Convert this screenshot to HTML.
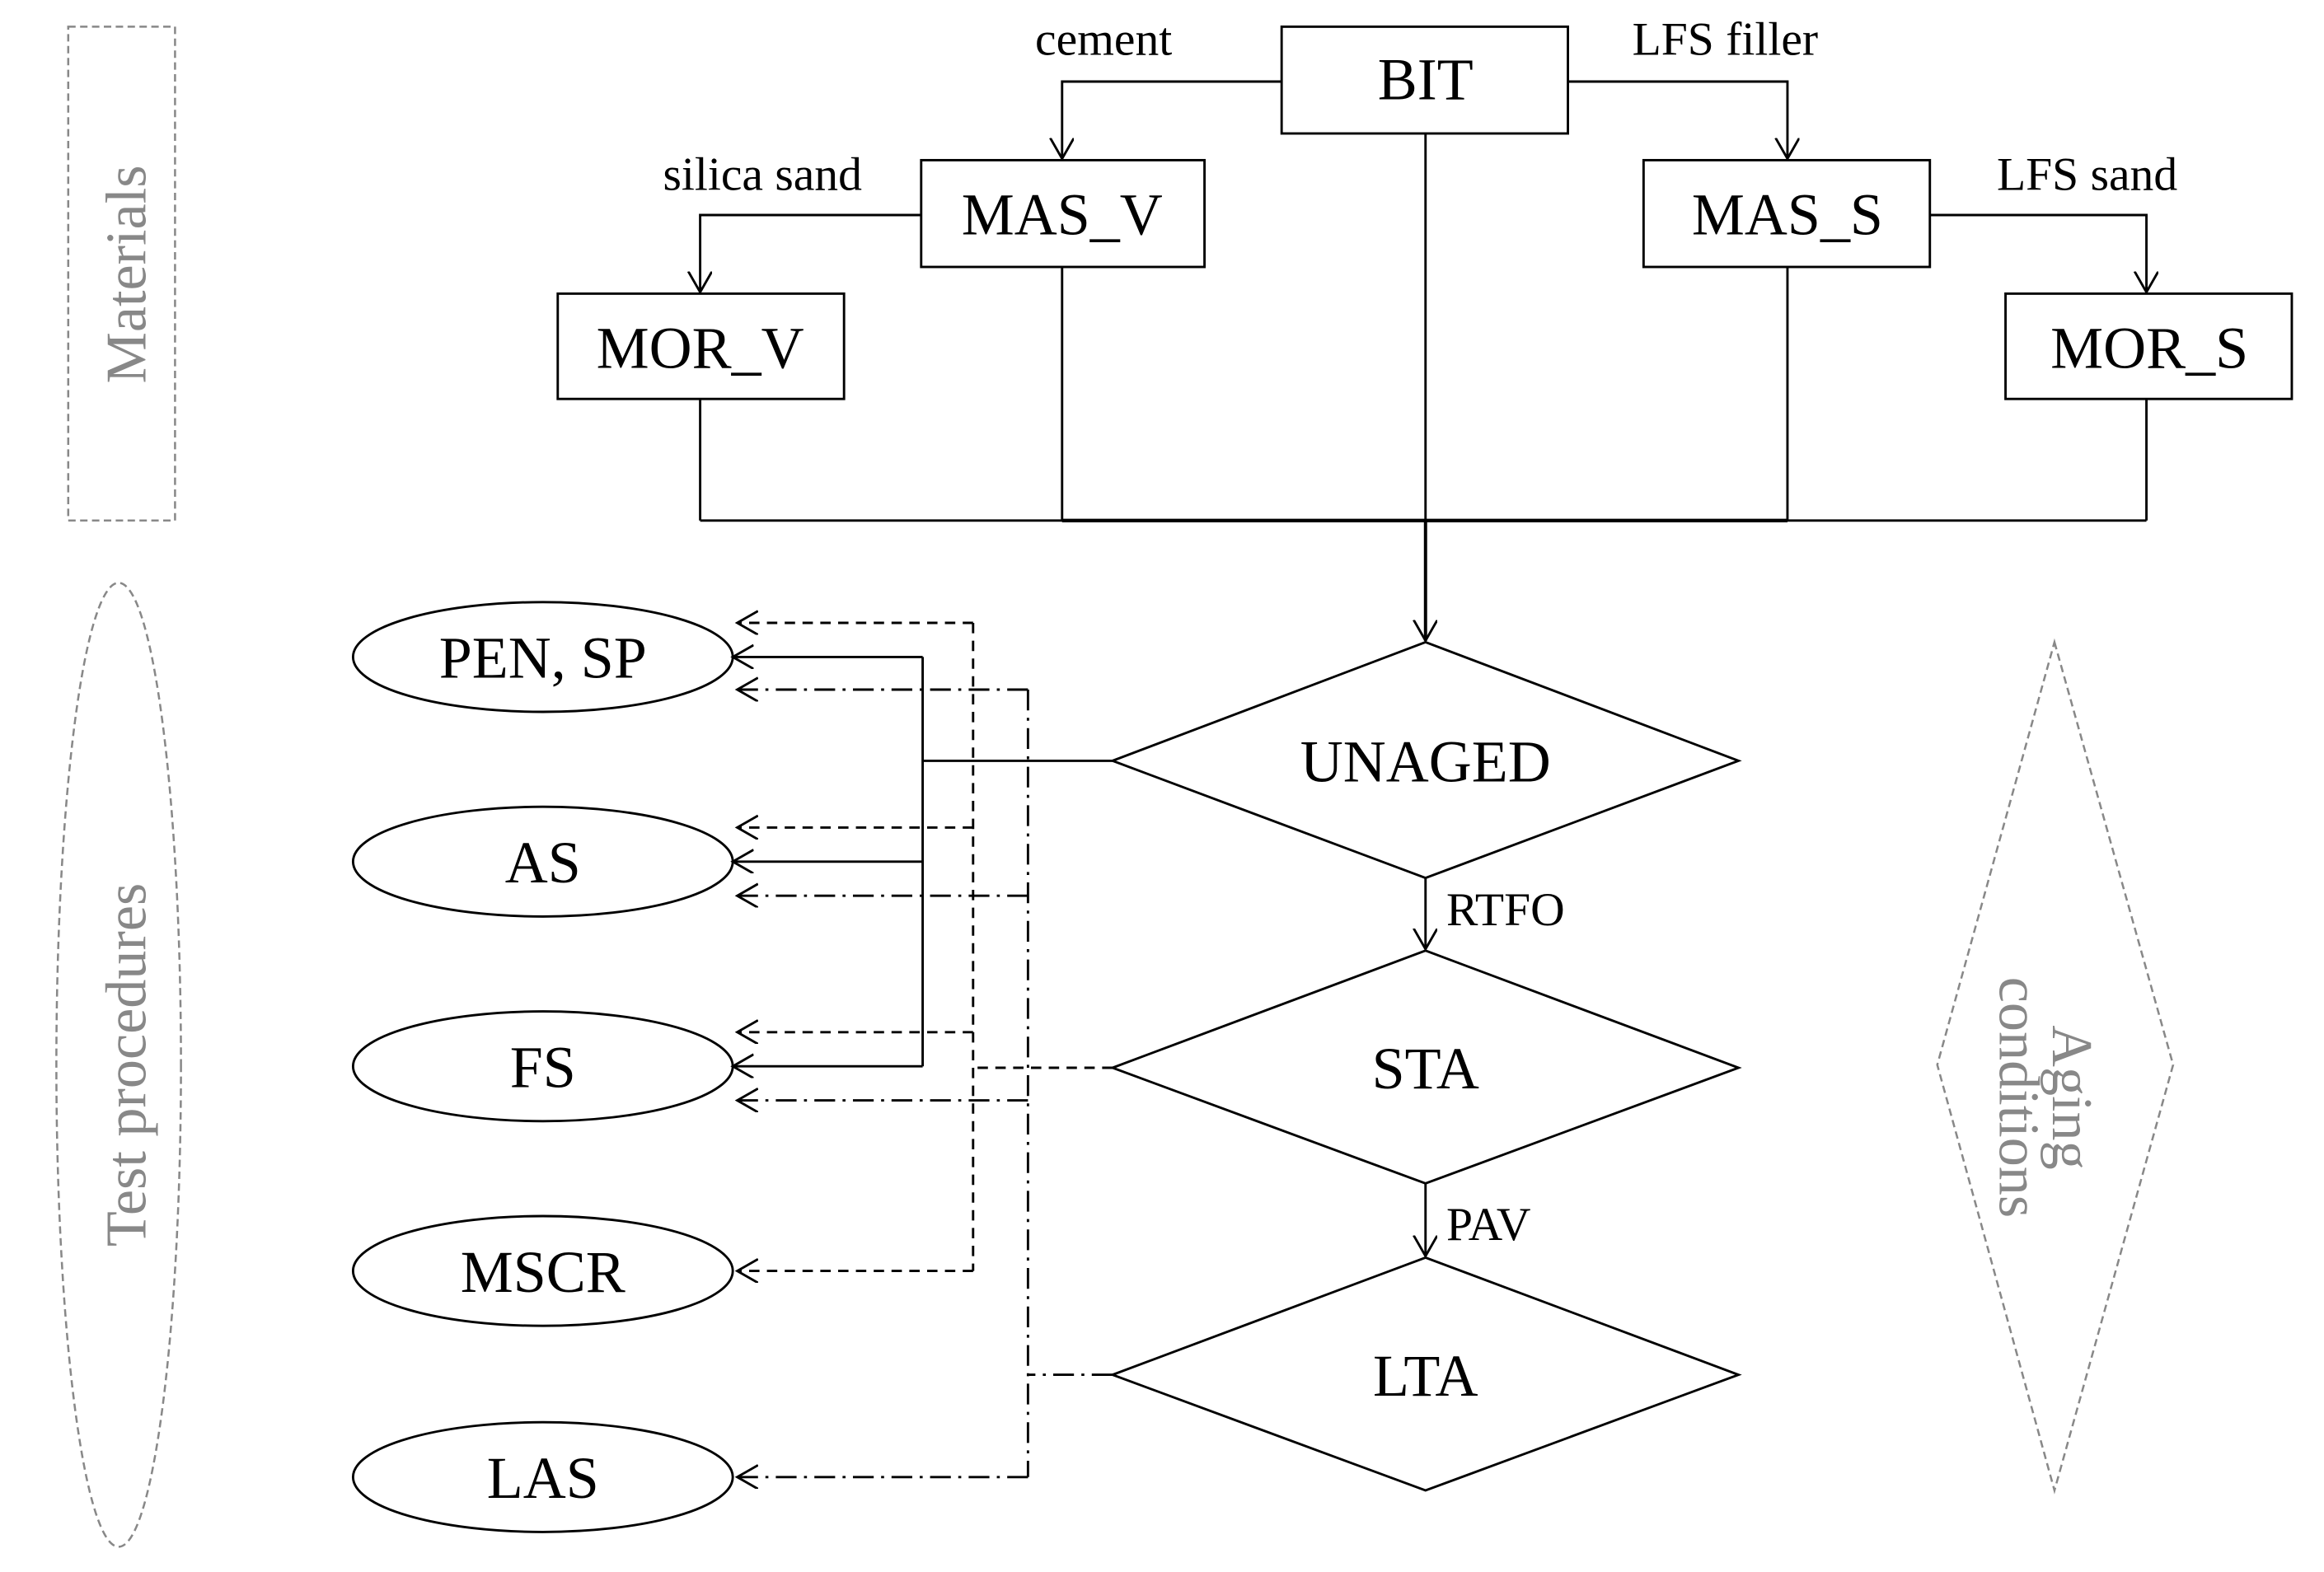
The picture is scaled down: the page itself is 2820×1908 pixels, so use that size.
<!DOCTYPE html>
<html><head><meta charset="utf-8"><style>html,body{margin:0;padding:0;background:#fff}svg{display:block}</style></head>
<body>
<svg width="2820" height="1908" viewBox="0 0 1566.7 1060" preserveAspectRatio="none" xmlns="http://www.w3.org/2000/svg" font-family="Liberation Serif, serif">
<defs>
<marker id="a" markerWidth="20" markerHeight="20" refX="14" refY="8" orient="auto" markerUnits="userSpaceOnUse">
<path d="M0,0 L14,8 L0,16" fill="none" stroke="#000" stroke-width="1.6"/></marker>
</defs>
<g fill="none" stroke="#000" stroke-width="1.6">
<rect x="864" y="18" width="193" height="72"/>
<rect x="621" y="108" width="191" height="72"/>
<rect x="1108" y="108" width="193" height="72"/>
<rect x="376" y="198" width="193" height="71"/>
<rect x="1352" y="198" width="193" height="71"/>
<polyline points="864,55 716,55 716,107" marker-end="url(#a)"/>
<polyline points="1057,55 1205,55 1205,107" marker-end="url(#a)"/>
<polyline points="621,145 472,145 472,197" marker-end="url(#a)"/>
<polyline points="1301,145 1447,145 1447,197" marker-end="url(#a)"/>
<line x1="472" y1="269" x2="472" y2="351"/>
<line x1="716" y1="180" x2="716" y2="351"/>
<line x1="961" y1="90" x2="961" y2="351"/>
<line x1="1205" y1="180" x2="1205" y2="351"/>
<line x1="1447" y1="269" x2="1447" y2="351"/>
<line x1="472" y1="351" x2="1447" y2="351"/>
<line x1="716" y1="351" x2="1205" y2="351" stroke-width="2.4"/>
<line x1="961" y1="351" x2="961" y2="432" stroke-width="2.2" marker-end="url(#a)"/>
<polygon points="750,513 961,433 1172,513 961,592"/>
<polygon points="750,720 961,641 1172,720 961,798"/>
<polygon points="750,927 961,848 1172,927 961,1005"/>
<line x1="961" y1="592" x2="961" y2="640" marker-end="url(#a)"/>
<line x1="961" y1="798" x2="961" y2="847" marker-end="url(#a)"/>
<ellipse cx="366" cy="443" rx="128" ry="37"/>
<ellipse cx="366" cy="581" rx="128" ry="37"/>
<ellipse cx="366" cy="719" rx="128" ry="37"/>
<ellipse cx="366" cy="857" rx="128" ry="37"/>
<ellipse cx="366" cy="996" rx="128" ry="37"/>
<line x1="750" y1="513" x2="622" y2="513"/>
<line x1="622" y1="443" x2="622" y2="719"/>
<polyline points="622,443 494,443" marker-end="url(#a)"/>
<polyline points="622,581 494,581" marker-end="url(#a)"/>
<polyline points="622,719 494,719" marker-end="url(#a)"/>
<g stroke-dasharray="7,5">
<line x1="750" y1="720" x2="656" y2="720"/>
<line x1="656" y1="420" x2="656" y2="857"/>
<polyline points="656,420 497,420" marker-end="url(#a)"/>
<polyline points="656,558 497,558" marker-end="url(#a)"/>
<polyline points="656,696 497,696" marker-end="url(#a)"/>
<polyline points="656,857 497,857" marker-end="url(#a)"/>
</g>
<g stroke-dasharray="14,5,2,5">
<line x1="750" y1="927" x2="693" y2="927"/>
<line x1="693" y1="465" x2="693" y2="996"/>
<polyline points="693,465 497,465" marker-end="url(#a)"/>
<polyline points="693,604 497,604" marker-end="url(#a)"/>
<polyline points="693,742 497,742" marker-end="url(#a)"/>
<polyline points="693,996 497,996" marker-end="url(#a)"/>
</g>
</g>
<g fill="none" stroke="#888" stroke-width="1.4" stroke-dasharray="5,3">
<rect x="46" y="18" width="72" height="333"/>
<ellipse cx="80" cy="718" rx="42" ry="325"/>
<polygon points="1385,433 1465,718 1385,1005 1306,718"/>
</g>
<g font-size="40" text-anchor="middle" fill="#000">
<text x="961" y="67">BIT</text>
<text x="716" y="158">MAS_V</text>
<text x="1205" y="158">MAS_S</text>
<text x="472" y="248">MOR_V</text>
<text x="1449" y="248">MOR_S</text>
<text x="961" y="527">UNAGED</text>
<text x="961" y="734">STA</text>
<text x="961" y="941">LTA</text>
<text x="366" y="457">PEN, SP</text>
<text x="366" y="595">AS</text>
<text x="366" y="733">FS</text>
<text x="366" y="871">MSCR</text>
<text x="366" y="1010">LAS</text>
</g>
<g font-size="32" fill="#000">
<text x="744" y="37" text-anchor="middle">cement</text>
<text x="1163" y="37" text-anchor="middle">LFS filler</text>
<text x="514" y="128" text-anchor="middle">silica sand</text>
<text x="1407" y="128" text-anchor="middle">LFS sand</text>
<text x="975" y="624">RTFO</text>
<text x="975" y="836">PAV</text>
</g>
<g font-size="39" fill="#888" text-anchor="middle">
<text transform="translate(98,185) rotate(-90)">Materials</text>
<text transform="translate(98,718) rotate(-90)">Test procedures</text>
<text transform="translate(1384,740) rotate(90)">Aging</text>
<text transform="translate(1348,740) rotate(90)">conditions</text>
</g>
</svg>
</body></html>
